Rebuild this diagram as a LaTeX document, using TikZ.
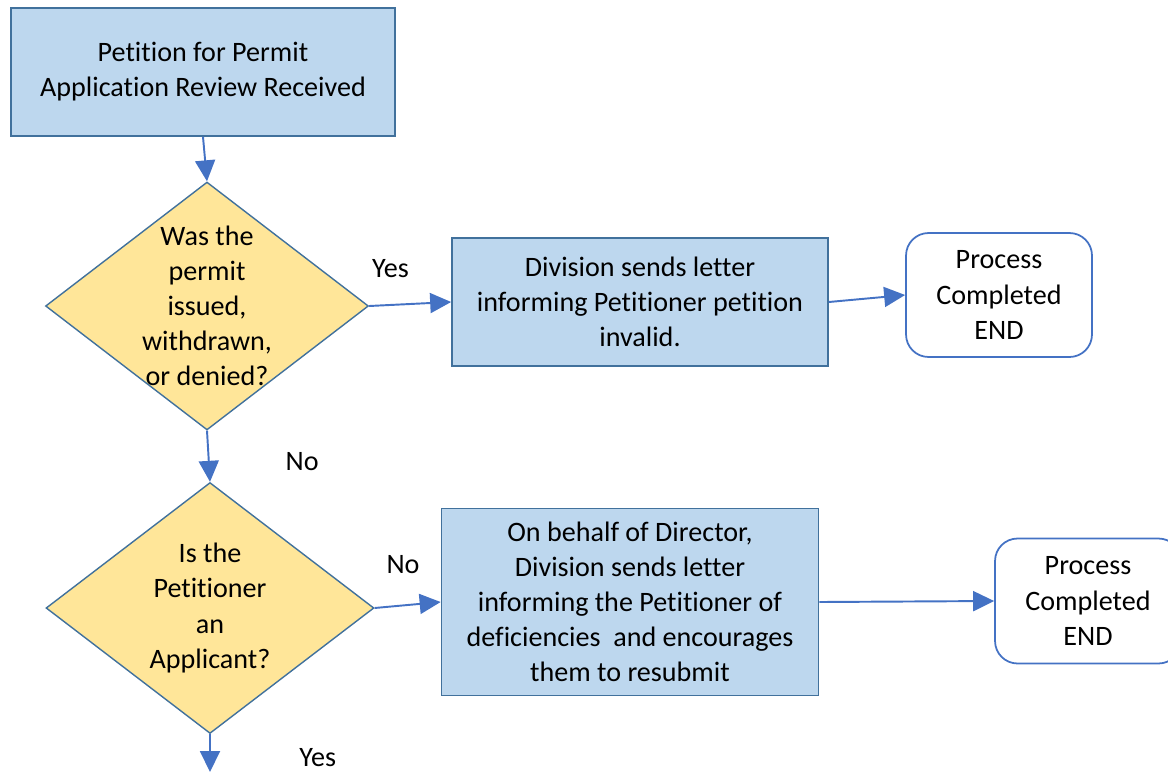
\documentclass[tikz,border=0pt]{standalone}
\usepackage{fontspec}
\setmainfont{Carlito}[Ligatures=NoCommon]
\usepackage{tikz}
\usetikzlibrary{arrows,arrows.meta,positioning,calc,shapes.geometric}

\definecolor{boxfill}{HTML}{BDD7EE}
\definecolor{boxline}{HTML}{41719C}
\definecolor{decfill}{HTML}{FFE699}
\definecolor{arrowblue}{HTML}{4472C4}

\tikzset{
    stepbox/.style={rectangle,draw=boxline,fill=boxfill,line width=1pt,align=center,inner sep=2pt},
    decision/.style={diamond,draw=boxline,fill=decfill,line width=0.8pt,inner sep=0pt},
    endbox/.style={rectangle,rounded corners=4.5mm,draw=arrowblue,fill=white,line width=1pt,align=center},
    flow/.style={-{Triangle[length=4.2mm,width=4mm]},draw=arrowblue,line width=1.1pt},
}

\begin{document}
\begin{tikzpicture}[x=0.02cm,y=-0.02cm,font=\fontsize{16}{20}\selectfont]
        \useasboundingbox (0,0) rectangle (1168,774);
        \clip (0,0) rectangle (1168,774);

        % Start box
        \node[stepbox,minimum width=7.68cm,minimum height=2.56cm] (start) at (203,72) {Petition for Permit\\Application Review Received};

        % Decisions
        \node[decision,minimum width=6.46cm,minimum height=4.96cm,label={[align=center]center:Was the\\permit\\issued,\\withdrawn,\\or denied?}] (q1) at (207,306) {};
        \node[decision,minimum width=6.56cm,minimum height=5.02cm,label={[align=center]center:Is the\\Petitioner\\an\\Applicant?}] (q2) at (210,608) {};

        % Letter boxes
        \node[stepbox,minimum width=7.52cm,minimum height=2.56cm] (invalid) at (640,302) {Division sends letter\\informing Petitioner petition\\invalid.};
        \node[stepbox,minimum width=7.54cm,minimum height=3.74cm] (resubmit) at (630,602) {On behalf of Director,\\Division sends letter\\informing the Petitioner of\\deficiencies\ \ and encourages\\them to resubmit};

        % End boxes
        \node[endbox,minimum width=3.72cm,minimum height=2.48cm] (end1) at (999,295) {Process\\Completed\\END};
        \node[endbox,minimum width=3.72cm,minimum height=2.5cm] (end2) at (1088,601) {Process\\Completed\\END};

        % Free end at the bottom
        \coordinate (out) at (210,772);

        % Arcs
        \draw[flow] (start.south) -- (q1.north);
        \draw[flow] (q1.east) -- node[pos=0.26,above=0.4cm] {Yes} (invalid.west);
        \draw[flow] (invalid.east) -- (end1.west);
        \draw[flow] (q1.south) -- node[pos=0.6,right=1.4cm] {No} (q2.north);
        \draw[flow] (q2.east) -- node[pos=0.43,above=0.5cm] {No} (resubmit.west);
        \draw[flow] (resubmit.east) -- (end2.west);
        \draw[flow] (q2.south) -- node[pos=0.62,right=1.65cm] {Yes} (out);

    \end{tikzpicture}
\end{document}
